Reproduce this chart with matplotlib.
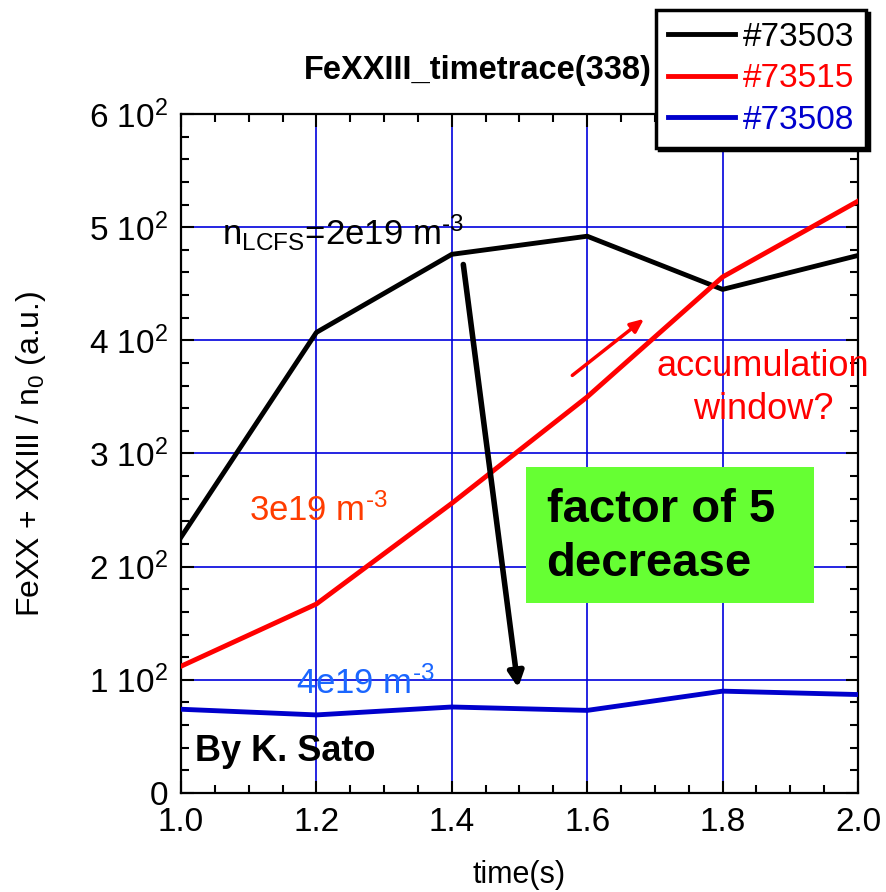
import numpy as np
import matplotlib
matplotlib.use("Agg")
import matplotlib.pyplot as plt
from matplotlib.ticker import MultipleLocator, FuncFormatter
from matplotlib.patches import Rectangle

plt.rcParams["font.family"] = ["Liberation Sans", "DejaVu Sans"]
plt.rcParams["mathtext.fontset"] = "custom"
plt.rcParams["mathtext.rm"] = "Liberation Sans"
plt.rcParams["mathtext.it"] = "Liberation Sans:italic"
plt.rcParams["mathtext.bf"] = "Liberation Sans:bold"
plt.rcParams["mathtext.default"] = "regular"

# data
time_s = [1.0, 1.2, 1.4, 1.6, 1.8, 2.0]
shot_73503 = [226, 407, 476, 492, 445, 475]
shot_73515 = [112, 167, 256, 350, 456, 523]
shot_73508 = [74, 69, 76, 73, 90, 87]
labels = ["#73503", "#73515", "#73508"]
colors = ["#000000", "#ff0000", "#0000cc"]

fig = plt.figure(figsize=(8.86, 8.92), dpi=100)
ax = fig.add_axes([181 / 886, 1 - 793 / 892, 677 / 886, 679 / 892])

for ys, lab, c in zip([shot_73503, shot_73515, shot_73508], labels, colors):
    ax.plot(time_s, ys, color=c, lw=3.5, label=lab, zorder=3)

ax.set_xlim(1.0, 2.0)
ax.set_ylim(0, 600)
ax.xaxis.set_major_locator(MultipleLocator(0.2))
ax.xaxis.set_minor_locator(MultipleLocator(0.05))
ax.yaxis.set_major_locator(MultipleLocator(100))
ax.yaxis.set_minor_locator(MultipleLocator(20))
ax.xaxis.set_major_formatter(FuncFormatter(lambda v, p: f"{v:.1f}"))
ax.yaxis.set_major_formatter(FuncFormatter(
    lambda v, p: "0" if v == 0 else f"{int(round(v / 100))} 10$^{{2}}$"))
ax.grid(True, which="major", color="#0000dd", lw=1.2, zorder=1)
ax.tick_params(which="both", direction="in", top=True, right=True,
               width=1.5, labelsize=24)
ax.tick_params(axis="y", pad=9)
ax.tick_params(axis="x", pad=10)
ax.tick_params(which="major", length=9)
ax.tick_params(which="minor", length=6)
for sp in ax.spines.values():
    sp.set_linewidth(1.6)

ax.set_xlabel("time(s)", fontsize=22, labelpad=16)
ax.set_ylabel("FeXX + XXIII / n$_{0}$ (a.u.)", fontsize=23, labelpad=30)
fig.text(478 / 886, 1 - 70 / 892, "FeXXIII_timetrace(338)", fontsize=23.5,
         fontweight="bold", ha="center", va="center")

# annotations
ax.text(1.06, 495, "n$_{LCFS}$=2e19 m$^{\\text{-3}}$", fontsize=25,
        color="black", va="center", ha="left")
ax.text(1.10, 250, "3e19 m$^{\\text{-3}}$", fontsize=25, color="#ff3c00",
        va="center", ha="left")
ax.text(1.17, 97, "4e19 m$^{\\text{-3}}$", fontsize=25, color="#1a66ff",
        va="center", ha="left")
ax.text(1.86, 358, "accumulation\nwindow?", fontsize=26, color="#ff0000",
        ha="center", va="center", linespacing=1.3)
ax.text(1.02, 37, "By K. Sato", fontsize=26, fontweight="bold",
        ha="left", va="center")

ax.add_patch(Rectangle((1.510, 168), 0.425, 120, facecolor="#66ff33",
                       edgecolor="none", zorder=4))
ax.text(1.540, 226, "factor of 5\ndecrease", fontsize=34, fontweight="bold",
        ha="left", va="center", linespacing=1.3, zorder=5)

ax.annotate("", xy=(1.498, 93), xytext=(1.417, 467),
            arrowprops=dict(arrowstyle="-|>,head_length=0.9,head_width=0.45",
                            color="black", lw=4, shrinkA=0, shrinkB=0),
            zorder=6)
ax.annotate("", xy=(1.684, 419), xytext=(1.578, 369),
            arrowprops=dict(arrowstyle="-|>,head_length=0.8,head_width=0.35",
                            color="#ff0000", lw=2.5, shrinkA=0, shrinkB=0),
            zorder=6)

leg = fig.legend(loc="upper right", bbox_to_anchor=(866 / 886, 1 - 10 / 892),
                 fontsize=24, handlelength=2.0, handletextpad=0.25,
                 labelspacing=0.32, borderpad=0.35, borderaxespad=0,
                 fancybox=False, shadow={"color": "black", "alpha": 1.0},
                 framealpha=1, edgecolor="black")
leg.get_frame().set_linewidth(2.5)
for t, c in zip(leg.get_texts(), colors):
    t.set_color(c)

fig.savefig("out.png", dpi=100)
